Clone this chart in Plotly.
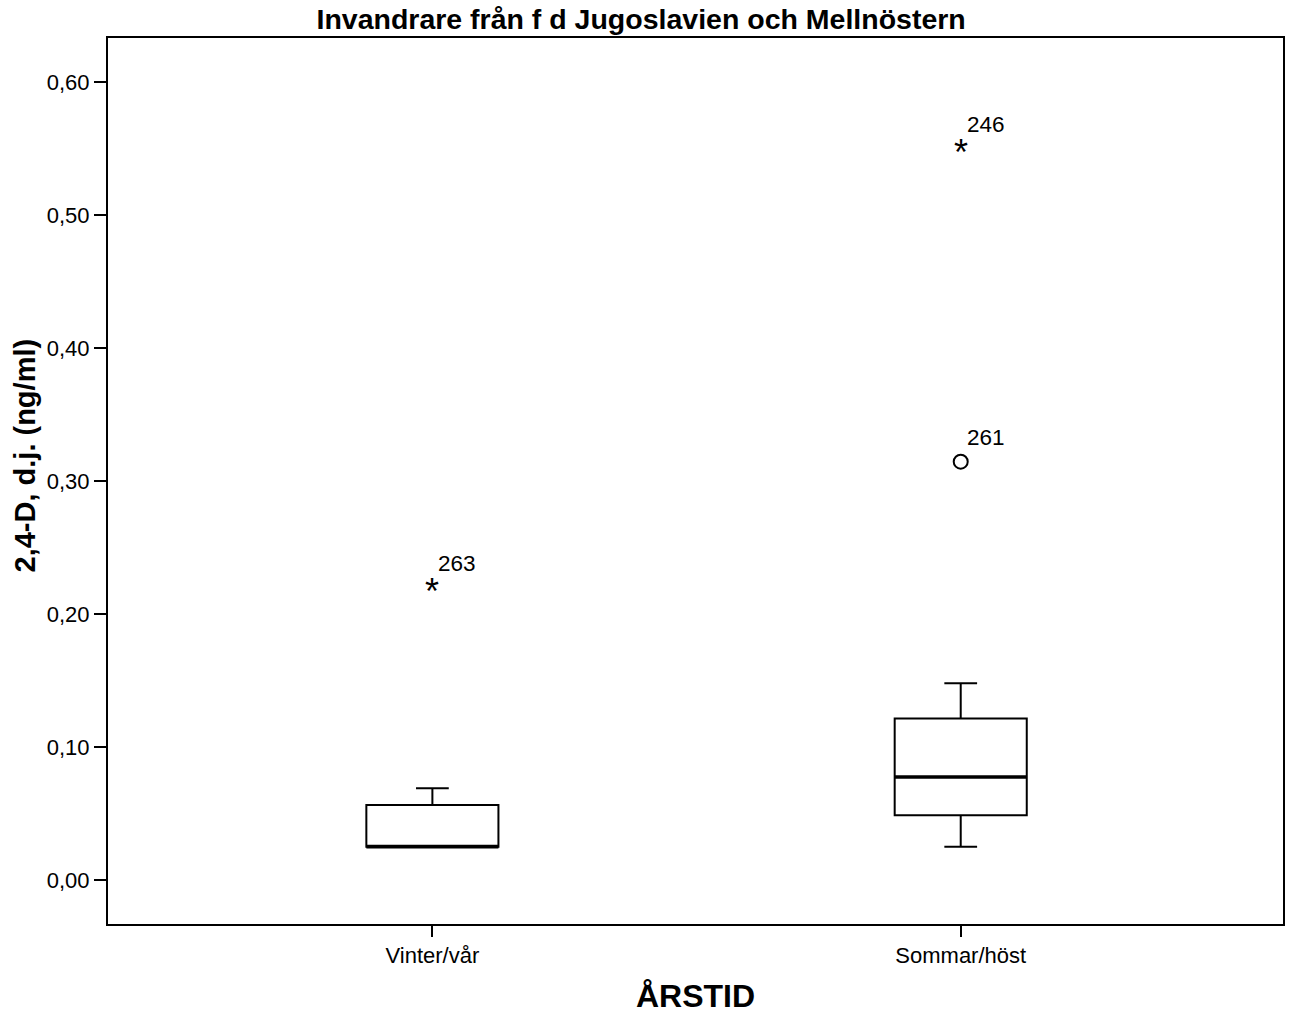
import plotly.graph_objects as go

# ---- data ----
categories = ["Vinter/vår", "Sommar/höst"]
cat_pos = [0, 1]
lower_whisker = [0.025, 0.025]
q1 = [0.025, 0.0488]
median = [0.025, 0.0775]
q3 = [0.0565, 0.1215]
upper_whisker = [0.069, 0.148]

outlier_cat = [0, 1, 1]
outlier_val = [0.220, 0.3145, 0.550]
outlier_label = ["263", "261", "246"]
outlier_kind = ["extreme", "outlier", "extreme"]

y_ticks = [0.0, 0.1, 0.2, 0.3, 0.4, 0.5, 0.6]

BOX_W = 0.25
CAP_W = 0.062
FONT = "Liberation Sans, Arial, sans-serif"

fig = go.Figure()

for i in range(len(categories)):
    fig.add_trace(go.Box(
        x=[cat_pos[i]], q1=[q1[i]], median=[median[i]], q3=[q3[i]],
        lowerfence=[lower_whisker[i]], upperfence=[upper_whisker[i]],
        width=BOX_W, fillcolor="white",
        line=dict(color="black", width=2), whiskerwidth=0,
        boxpoints=False, showlegend=False, hoverinfo="skip"))
    # thick median line
    fig.add_trace(go.Scatter(
        x=[cat_pos[i] - BOX_W / 2, cat_pos[i] + BOX_W / 2], y=[median[i], median[i]],
        mode="lines", line=dict(color="black", width=3.5), showlegend=False, hoverinfo="skip"))
    # whisker caps
    for v in (lower_whisker[i], upper_whisker[i]):
        fig.add_trace(go.Scatter(
            x=[cat_pos[i] - CAP_W / 2, cat_pos[i] + CAP_W / 2], y=[v, v],
            mode="lines", line=dict(color="black", width=2), showlegend=False, hoverinfo="skip"))

# outliers (circles)
ox = [outlier_cat[k] for k in range(len(outlier_val)) if outlier_kind[k] == "outlier"]
oy = [outlier_val[k] for k in range(len(outlier_val)) if outlier_kind[k] == "outlier"]
fig.add_trace(go.Scatter(x=ox, y=oy, mode="markers",
                         marker=dict(symbol="circle-open", size=14, color="black", line=dict(width=2)),
                         showlegend=False, hoverinfo="skip"))

# extremes (asterisks) and labels
for k in range(len(outlier_val)):
    if outlier_kind[k] == "extreme":
        fig.add_annotation(x=outlier_cat[k], y=outlier_val[k], text="*", showarrow=False,
                           font=dict(family=FONT, size=36, color="black"),
                           xanchor="center", yanchor="middle", yshift=-4)
    fig.add_annotation(x=outlier_cat[k], y=outlier_val[k], text=outlier_label[k], showarrow=False,
                       font=dict(family=FONT, size=22.5, color="black"),
                       xanchor="left", yanchor="middle", xshift=4, yshift=24)

# y-axis title as annotation
fig.add_annotation(xref="paper", yref="paper", x=-0.0705, y=0.529, text="<b>2,4-D, d.j. (ng/ml)</b>",
                   textangle=-90, showarrow=False, xanchor="center", yanchor="middle",
                   font=dict(family=FONT, size=29, color="black"))

fig.update_layout(
    width=1290, height=1014,
    margin=dict(l=108, r=5, t=38, b=89),
    paper_bgcolor="white", plot_bgcolor="white",
    separators=",.",
    title=dict(text="<b>Invandrare från f d Jugoslavien och Mellnöstern</b>",
               x=0.497, xanchor="center", y=0.981, yanchor="middle",
               font=dict(family=FONT, size=28.5, color="black")),
    font=dict(family=FONT, color="black"),
    xaxis=dict(range=[-0.614, 1.61], tickvals=cat_pos, ticktext=categories,
               ticks="outside", ticklen=11, tickwidth=2, tickcolor="black",
               showline=True, linecolor="black", linewidth=2, mirror=True,
               showgrid=False, zeroline=False, tickfont=dict(family=FONT, size=22),
               title=dict(text="<b>ÅRSTID</b>", font=dict(family=FONT, size=32), standoff=18)),
    yaxis=dict(range=[-0.033, 0.633], tickvals=y_ticks, tickformat=".2f",
               ticks="outside", ticklen=12, tickwidth=2, tickcolor="black",
               showline=True, linecolor="black", linewidth=2, mirror=True,
               showgrid=False, zeroline=False, tickfont=dict(family=FONT, size=22)),
)

fig.write_html("out.html")
